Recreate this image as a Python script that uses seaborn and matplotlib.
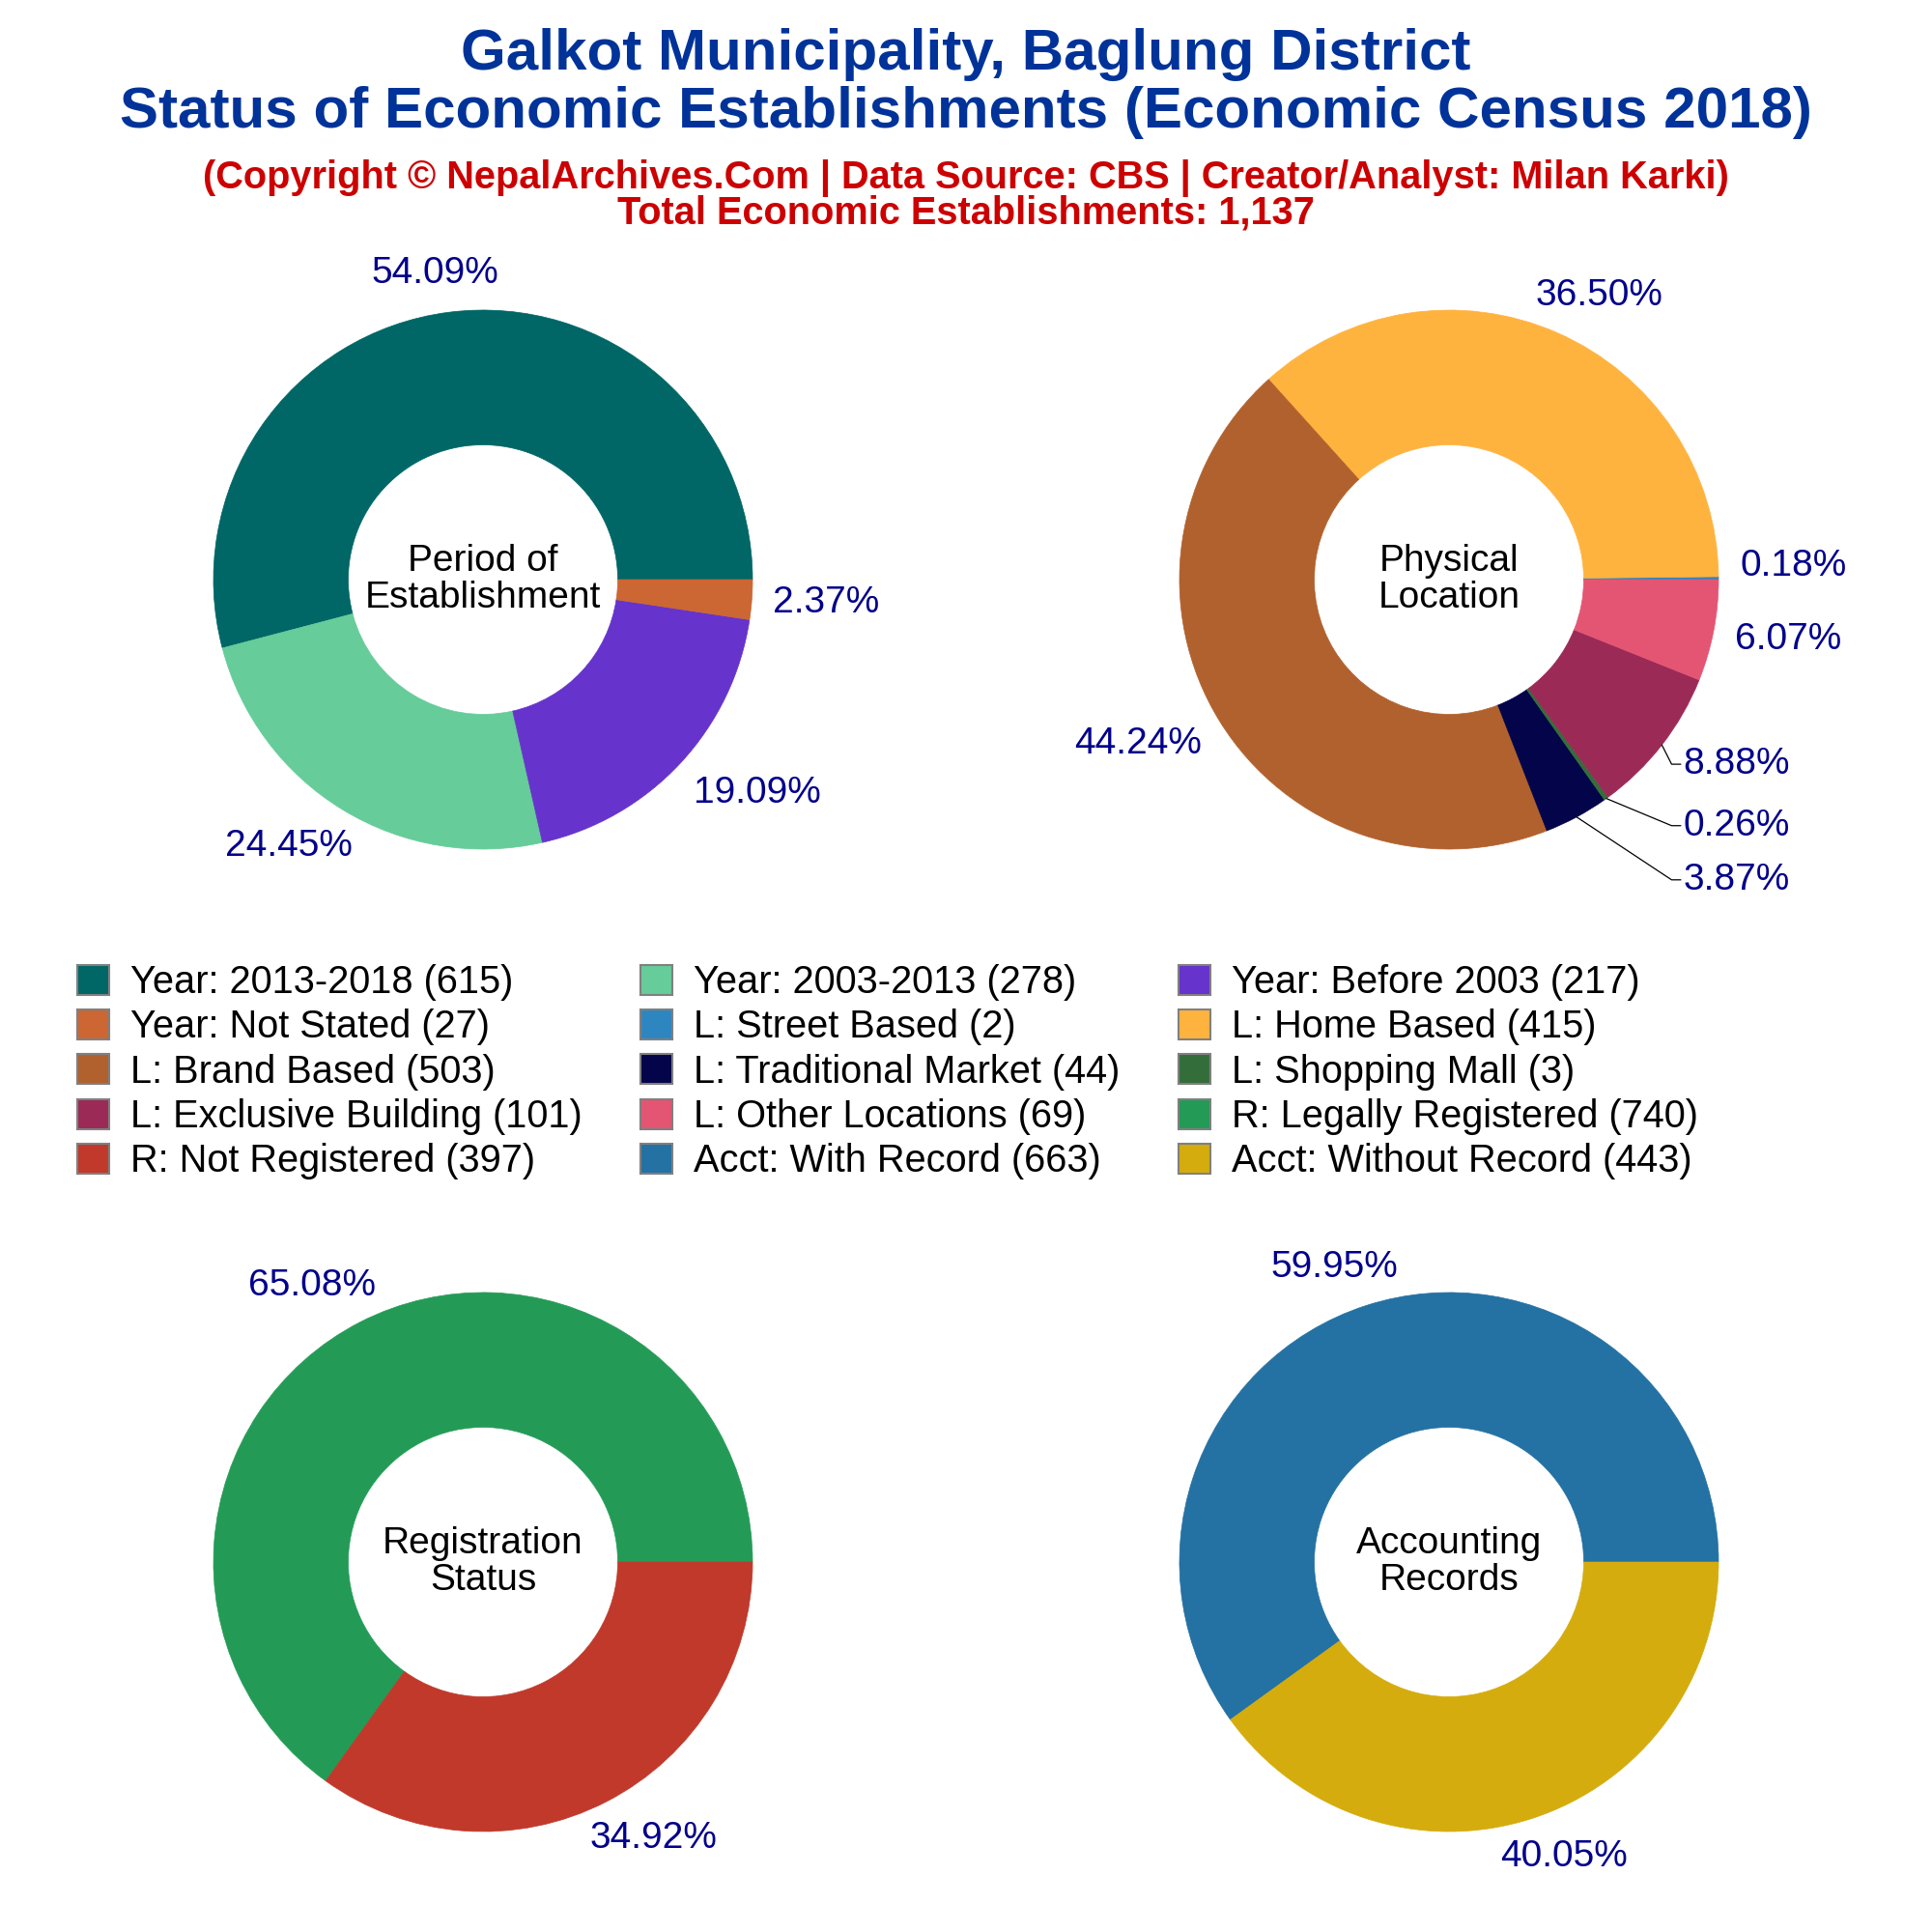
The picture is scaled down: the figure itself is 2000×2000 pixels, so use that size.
import numpy as np
import matplotlib
matplotlib.use('Agg')
import matplotlib.pyplot as plt
import matplotlib.transforms as mtransforms
from matplotlib.patches import Patch
import seaborn as sns

# ---- data (Economic Census 2018, Galkot Municipality) ----
period_labels = ['Year: 2013-2018', 'Year: 2003-2013', 'Year: Before 2003', 'Year: Not Stated']
period_counts = [615, 278, 217, 27]
period_colors = ['#006666', '#66CC99', '#6633CC', '#CC6633']

location_labels = ['L: Street Based', 'L: Home Based', 'L: Brand Based', 'L: Traditional Market',
                   'L: Shopping Mall', 'L: Exclusive Building', 'L: Other Locations']
location_counts = [2, 415, 503, 44, 3, 101, 69]
location_colors = ['#2E86C1', '#FFB33F', '#B1612D', '#03044A', '#336E3A', '#9B2A56', '#E45573']

registration_labels = ['R: Legally Registered', 'R: Not Registered']
registration_counts = [740, 397]
registration_colors = ['#239B56', '#C0392B']

account_labels = ['Acct: With Record', 'Acct: Without Record']
account_counts = [663, 443]
account_colors = ['#2471A3', '#D4AC0D']

total_establishments = 1137

# labels that plotly pushed aside with a leader line (text y in pie units)
leader_y = {'L: Exclusive Building': -0.685, 'L: Shopping Mall': -0.913, 'L: Traditional Market': -1.114}
nudge_y = {'L: Street Based': 0.045}

sns.set_theme(style='white')
plt.rcParams['font.family'] = ['Liberation Sans', 'DejaVu Sans']

FS = 28
PCT_COLOR = '#00008B'

fig = plt.figure(figsize=(20, 20), dpi=100)
W = 0.4185
L = 1.5

to_shift = []  # (text, ax, fx, fy)


def donut(cx, cy, labels, counts, colors, title):
    ax = fig.add_axes([cx - W / 2, cy - W / 2, W, W])
    wedges, _ = ax.pie(counts, colors=colors, startangle=0, counterclock=True, radius=1,
                       wedgeprops=dict(width=0.5, linewidth=0.5))
    for w, col in zip(wedges, colors):
        w.set_edgecolor(col)
    total = sum(counts)
    for w, lab, n in zip(wedges, labels, counts):
        ang = np.deg2rad((w.theta1 + w.theta2) / 2)
        c, s = np.cos(ang), np.sin(ang)
        txt = f'{n / total * 100:.2f}%'
        if lab in leader_y:
            y = leader_y[lab]
            ax.plot([c, 0.826, 0.86], [s, y, y], color='black', lw=0.9)
            ax.text(0.868, y, txt, ha='left', va='center', fontsize=FS, color=PCT_COLOR)
        else:
            t = ax.text(1.08 * c, 1.08 * s + nudge_y.get(lab, 0), txt, ha='center', va='center',
                        fontsize=FS, color=PCT_COLOR)
            to_shift.append((t, ax, np.clip(1.3 * c, -1, 1), np.clip(1.3 * s, -1, 1)))
    ax.text(0, 0.0, title, ha='center', va='center', fontsize=FS, color='black', linespacing=1.1)
    ax.set_xlim(-L, L)
    ax.set_ylim(-L, L)
    ax.set_aspect('equal')
    ax.axis('off')
    return ax


donut(0.25, 0.70, period_labels, period_counts, period_colors, 'Period of\nEstablishment')
donut(0.75, 0.70, location_labels, location_counts, location_colors, 'Physical\nLocation')
donut(0.25, 0.1915, registration_labels, registration_counts, registration_colors, 'Registration\nStatus')
donut(0.75, 0.1915, account_labels, account_counts, account_colors, 'Accounting\nRecords')

# titles
fig.text(0.5, 0.9715, 'Galkot Municipality, Baglung District', ha='center', va='center',
         fontsize=43.3, fontweight='bold', color='#003399')
fig.text(0.5, 0.9415, 'Status of Economic Establishments (Economic Census 2018)', ha='center', va='center',
         fontsize=43.3, fontweight='bold', color='#003399')
fig.text(0.5, 0.908, '(Copyright \u00a9 NepalArchives.Com | Data Source: CBS | Creator/Analyst: Milan Karki)',
         ha='center', va='center', fontsize=28.6, fontweight='bold', color='#CC0000')
fig.text(0.5, 0.8895, f'Total Economic Establishments: {total_establishments:,}', ha='center', va='center',
         fontsize=28.6, fontweight='bold', color='#CC0000')

# legend, row-major order like the original
all_labels = period_labels + location_labels + registration_labels + account_labels
all_counts = period_counts + location_counts + registration_counts + account_counts
all_colors = period_colors + location_colors + registration_colors + account_colors
handles = [Patch(facecolor=c, edgecolor='#808080', linewidth=1.5, label=f'{l} ({n})')
           for l, n, c in zip(all_labels, all_counts, all_colors)]
ncol, nrow = 3, 5
ordered = [handles[r * ncol + k] for k in range(ncol) for r in range(nrow)]
fig.legend(handles=ordered, loc='upper left', bbox_to_anchor=(0.04, 0.501), ncol=ncol, frameon=False,
           fontsize=28.6, labelcolor='black', handlelength=0.83, handleheight=0.83, handletextpad=0.55,
           columnspacing=1.53, labelspacing=0.21, borderaxespad=0, borderpad=0)

# plotly-style outside labels: pull the text box away from the ring
fig.canvas.draw()
rend = fig.canvas.get_renderer()
for t, ax, fx, fy in to_shift:
    bb = t.get_window_extent(rend)
    dx = bb.width / 2 * fx / fig.dpi
    dy = bb.height / 2 * fy / fig.dpi
    t.set_transform(ax.transData + mtransforms.ScaledTranslation(dx, dy, fig.dpi_scale_trans))

fig.savefig('out.png', dpi=100)
